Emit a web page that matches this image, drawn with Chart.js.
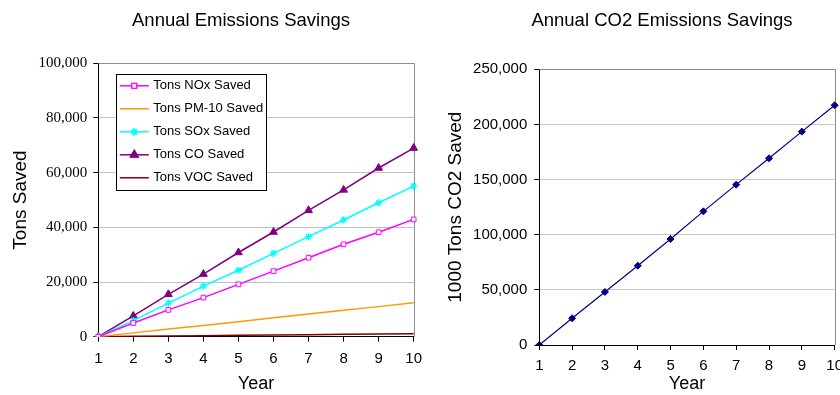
<!DOCTYPE html>
<html>
<head>
<meta charset="utf-8">
<script src="https://cdn.jsdelivr.net/npm/chart.js@4.4.0/dist/chart.umd.min.js"></script>
<style>
  html, body { margin: 0; padding: 0; background: #fff; overflow: hidden; width: 840px; height: 395px; }
  #leftChart { position: absolute; left: 0; top: 0; }
  #rightChart { position: absolute; left: 420px; top: 0; }
</style>
</head>
<body>
<canvas id="leftChart" width="430" height="395"></canvas>
<canvas id="rightChart" width="430" height="395"></canvas>
<script>
// Chart data
const years = ['1', '2', '3', '4', '5', '6', '7', '8', '9', '10'];
const noxSaved = [0, 5000, 9800, 14300, 19150, 24000, 28900, 33800, 38200, 42900];
const pm10Saved = [0, 1400, 2800, 4100, 5500, 6900, 8300, 9700, 11000, 12400];
const soxSaved = [0, 5900, 12300, 18500, 24300, 30500, 36600, 42700, 49000, 55100];
const coSaved = [0, 7600, 15500, 22900, 30800, 38300, 46200, 53700, 61700, 69000];
const vocSaved = [0, 120, 250, 370, 500, 620, 750, 870, 1000, 1120];
const co2Saved = [0, 24200, 48100, 71900, 96100, 121200, 145400, 169300, 193500, 217400];

const sans = "'Liberation Sans', Arial, sans-serif";
const serif = "'Liberation Serif', 'Times New Roman', serif";
Chart.defaults.font.family = sans;
Chart.defaults.color = '#000';

const fmt = v => Number(v).toLocaleString('en-US');

// chart title drawn at a set centre (Excel centres it off the canvas middle)
const sideTitle = {
  id: 'sideTitle',
  afterDraw(chart, args, opts) {
    const { ctx } = chart;
    ctx.save();
    ctx.font = '18.5px ' + sans;
    ctx.fillStyle = '#000';
    ctx.textAlign = 'center';
    ctx.textBaseline = 'middle';
    ctx.fillText(opts.text, opts.x, opts.y);
    ctx.restore();
  }
};

// gray top + right border of the plot area
const plotFrame = {
  id: 'plotFrame',
  beforeDatasetsDraw(chart) {
    const { ctx, chartArea: a } = chart;
    ctx.save();
    ctx.strokeStyle = '#8c8c8c';
    ctx.lineWidth = 1;
    ctx.beginPath();
    ctx.moveTo(a.left, Math.round(a.top) + 0.5);
    ctx.lineTo(Math.round(a.right) + 0.5, Math.round(a.top) + 0.5);
    ctx.lineTo(Math.round(a.right) + 0.5, a.bottom);
    ctx.stroke();
    ctx.restore();
  }
};

// boxed legend inside the plot area
const boxLegend = {
  id: 'boxLegend',
  afterDraw(chart) {
    const { ctx, chartArea: a } = chart;
    const x0 = a.left + 17.5, y0 = a.top + 11;
    const w = 150, rowH = 23;
    const sets = chart.data.datasets;
    ctx.save();
    ctx.fillStyle = '#fff';
    ctx.fillRect(x0, y0, w, sets.length * rowH + 0.5);
    ctx.strokeStyle = '#000';
    ctx.lineWidth = 1;
    ctx.strokeRect(Math.round(x0) + 0.5, Math.round(y0) + 0.5, w, Math.round(sets.length * rowH + 0.5));
    ctx.font = '13px ' + sans;
    ctx.textBaseline = 'middle';
    sets.forEach((ds, i) => {
      const cy = y0 + 11.5 + i * rowH;
      ctx.strokeStyle = ds.borderColor;
      ctx.lineWidth = ds.borderWidth;
      ctx.beginPath();
      ctx.moveTo(x0 + 4, cy);
      ctx.lineTo(x0 + 33, cy);
      ctx.stroke();
      if (ds.pointRadius > 0 && Chart.helpers && Chart.helpers.drawPoint) {
        Chart.helpers.drawPoint(ctx, {
          pointStyle: ds.pointStyle, radius: ds.pointRadius, rotation: 0,
          borderWidth: ds.pointBorderWidth || 1
        }, x0 + 18.5, cy);
        ctx.fillStyle = ds.pointBackgroundColor;
        ctx.strokeStyle = ds.pointBorderColor;
        ctx.lineWidth = ds.pointBorderWidth || 1;
        if (ds.pointStyle !== 'star') ctx.fill();
        ctx.stroke();
      }
      ctx.fillStyle = '#000';
      ctx.fillText(ds.label, x0 + 37.5, cy);
    });
    ctx.restore();
  }
};

function series(label, data, color, style, radius, fill, bw) {
  return {
    label, data,
    borderColor: color, borderWidth: 1.5,
    pointStyle: style || 'circle', pointRadius: radius || 0, pointHoverRadius: radius || 0,
    pointBackgroundColor: fill || color, pointBorderColor: color, pointBorderWidth: bw || 1,
    tension: 0, fill: false
  };
}

// Annual Emissions Savings
new Chart(document.getElementById('leftChart').getContext('2d'), {
  type: 'line',
  data: {
    labels: years,
    datasets: [
      series('Tons NOx Saved', noxSaved, '#ff00ff', 'rect', 3.3, '#ffffff', 1),
      series('Tons PM-10 Saved', pm10Saved, '#ff9900'),
      series('Tons SOx Saved', soxSaved, '#00ffff', 'star', 3.6, '#00ffff', 1.3),
      series('Tons CO Saved', coSaved, '#800080', 'triangle', 4.5, '#800080', 1),
      series('Tons VOC Saved', vocSaved, '#800000')
    ]
  },
  options: {
    responsive: false,
    animation: false,
    devicePixelRatio: 1,
    layout: { padding: { left: 0, right: 11.7, top: 63.3, bottom: 0 } },
    plugins: {
      legend: { display: false },
      tooltip: { enabled: false },
      title: { display: false },
      sideTitle: { text: 'Annual Emissions Savings', x: 241, y: 21 }
    },
    scales: {
      x: {
        offset: false,
        afterFit: s => { s.height = 58.3; },
        grid: { display: true, drawOnChartArea: false, drawTicks: true, tickLength: 5, tickColor: '#000' },
        border: { color: '#000', width: 1 },
        ticks: { font: { size: 15 }, padding: 8, maxRotation: 0, autoSkip: false },
        title: { display: true, text: 'Year', font: { size: 18 }, padding: { top: 0, bottom: 0 } }
      },
      y: {
        min: 0, max: 100000,
        afterFit: s => { s.width = 98.3; },
        grid: {
          color: c => (c.tick && c.tick.value === 0) ? 'rgba(0,0,0,0)' : '#c0c0c0',
          tickColor: '#000', tickLength: 5
        },
        border: { color: '#000', width: 1 },
        ticks: { stepSize: 20000, padding: 6, font: { size: 15, family: serif }, callback: fmt },
        title: { display: true, text: 'Tons Saved', font: { size: 19 }, padding: { top: 9.6, bottom: 0 } }
      }
    }
  },
  plugins: [plotFrame, boxLegend, sideTitle]
});

// Annual CO2 Emissions Savings
new Chart(document.getElementById('rightChart').getContext('2d'), {
  type: 'line',
  data: {
    labels: years,
    datasets: [
      Object.assign(series('1000 Tons CO2 Saved', co2Saved, '#000080', 'rectRot', 3.5, '#000080', 1), { borderWidth: 1.2 })
    ]
  },
  options: {
    responsive: false,
    animation: false,
    devicePixelRatio: 1,
    layout: { padding: { left: 0, right: 13.3, top: 69.3, bottom: 0 } },
    plugins: {
      legend: { display: false },
      tooltip: { enabled: false },
      title: { display: false },
      sideTitle: { text: 'Annual CO2 Emissions Savings', x: 242, y: 21 }
    },
    scales: {
      x: {
        offset: false,
        afterFit: s => { s.height = 50; },
        grid: { display: true, drawOnChartArea: false, drawTicks: true, tickLength: 5, tickColor: '#000' },
        border: { color: '#000', width: 1 },
        ticks: { font: { size: 15 }, padding: 7, maxRotation: 0, autoSkip: false },
        title: { display: true, text: 'Year', font: { size: 18 }, padding: { top: 0, bottom: 0 } }
      },
      y: {
        min: 0, max: 250000,
        afterFit: s => { s.width = 119.3; },
        grid: {
          color: c => (c.tick && c.tick.value === 0) ? 'rgba(0,0,0,0)' : '#c8c8c8',
          tickColor: '#000', tickLength: 5
        },
        border: { color: '#000', width: 1 },
        ticks: { stepSize: 50000, padding: 7, font: { size: 15 }, callback: fmt },
        title: { display: true, text: '1000 Tons CO2 Saved', font: { size: 19 }, padding: { top: 24.6, bottom: 0 } }
      }
    }
  },
  plugins: [plotFrame, sideTitle]
});
</script>
</body>
</html>
